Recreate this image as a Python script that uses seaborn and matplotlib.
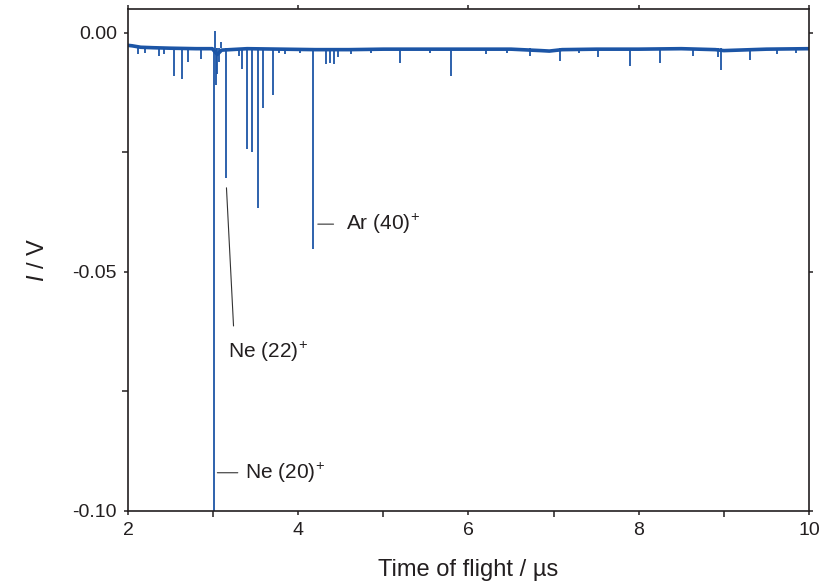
"""
Time-of-flight mass spectrum (Ne / Ar) - recreated with seaborn
"""

import numpy as np
import pandas as pd
import matplotlib
matplotlib.use("Agg")
import matplotlib.pyplot as plt
import seaborn as sns
from matplotlib.ticker import MultipleLocator, FixedLocator

# baseline (time in us, signal in V)
base_t = [2.00, 2.05, 2.15, 2.30, 2.50, 2.80, 2.99, 3.05, 3.10, 3.40, 3.80,
          4.20, 4.60, 5.00, 5.50, 6.00, 6.50, 6.85, 6.95, 7.10, 7.50, 8.00,
          8.50, 8.90, 9.00, 9.50, 10.00]
base_v = [-0.0026, -0.0027, -0.0030, -0.0031, -0.0032, -0.0033, -0.0033,
          -0.0045, -0.0036, -0.0033, -0.0034, -0.0035, -0.0035, -0.0034,
          -0.0034, -0.0034, -0.0034, -0.0037, -0.0038, -0.0035, -0.0034,
          -0.0034, -0.0033, -0.0035, -0.0037, -0.0034, -0.0033]

# spikes: position and tip value
peak_t = [2.12, 2.20, 2.37, 2.42, 2.546, 2.63, 2.71, 2.86, 3.008, 3.022,
          3.035, 3.05, 3.065, 3.087, 3.146, 3.30, 3.34, 3.40, 3.46, 3.525,
          3.59, 3.70, 3.78, 3.85, 4.02, 4.175, 4.33, 4.376, 4.42, 4.47,
          4.62, 4.85, 5.20, 5.55, 5.80, 6.21, 6.45, 6.72, 7.08, 7.30, 7.525,
          7.90, 8.25, 8.64, 8.93, 8.97, 9.31, 9.62, 9.85]
peak_v = [-0.0044, -0.0042, -0.0048, -0.0045, -0.0090, -0.0097, -0.0060,
          -0.0055, -0.1000, 0.0005, -0.0110, -0.0085, -0.0060, -0.0020,
          -0.0304, -0.0048, -0.0076, -0.0243, -0.0249, -0.0366, -0.0157,
          -0.0130, -0.0043, -0.0045, -0.0042, -0.0452, -0.0065, -0.0062,
          -0.0065, -0.0050, -0.0044, -0.0042, -0.0062, -0.0042, -0.0091,
          -0.0045, -0.0042, -0.0048, -0.0058, -0.0043, -0.0050, -0.0069,
          -0.0062, -0.0048, -0.0050, -0.0077, -0.0056, -0.0044, -0.0042]

BASE_LEVEL = -0.0032
LINE = "#1c55a6"
INK = "#231f20"

sns.set_style("ticks")
plt.rcParams["font.family"] = ["Liberation Sans", "DejaVu Sans"]
plt.rcParams["mathtext.fontset"] = "custom"
plt.rcParams["mathtext.rm"] = "Liberation Sans"
plt.rcParams["mathtext.it"] = "Liberation Sans:italic"

fig = plt.figure(figsize=(8.24, 5.81), dpi=100)
ax = fig.add_axes([0.1553, 0.1205, 0.8265, 0.8640])

df_base = pd.DataFrame({"t": base_t, "v": base_v})
sns.lineplot(data=df_base, x="t", y="v", ax=ax, color=LINE, lw=2.6,
             estimator=None, sort=False)

ax.vlines(peak_t, BASE_LEVEL, peak_v, color=LINE, lw=1.3)

ax.set_xlim(2, 10)
ax.set_ylim(-0.10, 0.005)

ax.xaxis.set_major_locator(MultipleLocator(2))
ax.xaxis.set_minor_locator(MultipleLocator(1))
ax.yaxis.set_major_locator(FixedLocator([-0.10, -0.05, 0.0]))
ax.yaxis.set_minor_locator(FixedLocator([-0.075, -0.025]))
ax.set_yticklabels(["-0.10", "-0.05", "0.00"])

ax.tick_params(axis="both", which="major", direction="out", length=7,
               width=1.1, color=INK, labelsize=14, labelcolor=INK, pad=5)
ax.tick_params(axis="both", which="minor", direction="out", length=4,
               width=1.1, color=INK)
ax.tick_params(top=True, right=True, which="major", length=3)
ax.tick_params(top=False, right=False, which="minor")
ax.tick_params(axis="both", which="major", labeltop=False, labelright=False)

for s in ax.spines.values():
    s.set_color(INK)
    s.set_linewidth(1.2)

ax.set_xlabel("Time of flight / \u00b5s", fontsize=17, color=INK, labelpad=14)
ax.set_ylabel(r"$I$ / V", fontsize=17, color=INK, labelpad=17)

# peak labels with leader lines
lead = dict(arrowstyle="-", lw=0.8, color="#333333", shrinkA=0, shrinkB=0)
ax.annotate("", xy=(4.23, -0.040), xytext=(4.415, -0.040), arrowprops=lead)
ax.text(4.56, -0.040, r"Ar (40)$^{\!+}$", fontsize=15, color=INK, va="center")

ax.annotate("", xy=(3.157, -0.0324), xytext=(3.24, -0.0613), arrowprops=lead)
ax.text(3.17, -0.0668, r"Ne (22)$^{\!+}$", fontsize=15, color=INK, va="center")

ax.annotate("", xy=(3.05, -0.0920), xytext=(3.29, -0.0920), arrowprops=lead)
ax.text(3.37, -0.0920, r"Ne (20)$^{\!+}$", fontsize=15, color=INK, va="center")

fig.savefig("out.png", dpi=100)
